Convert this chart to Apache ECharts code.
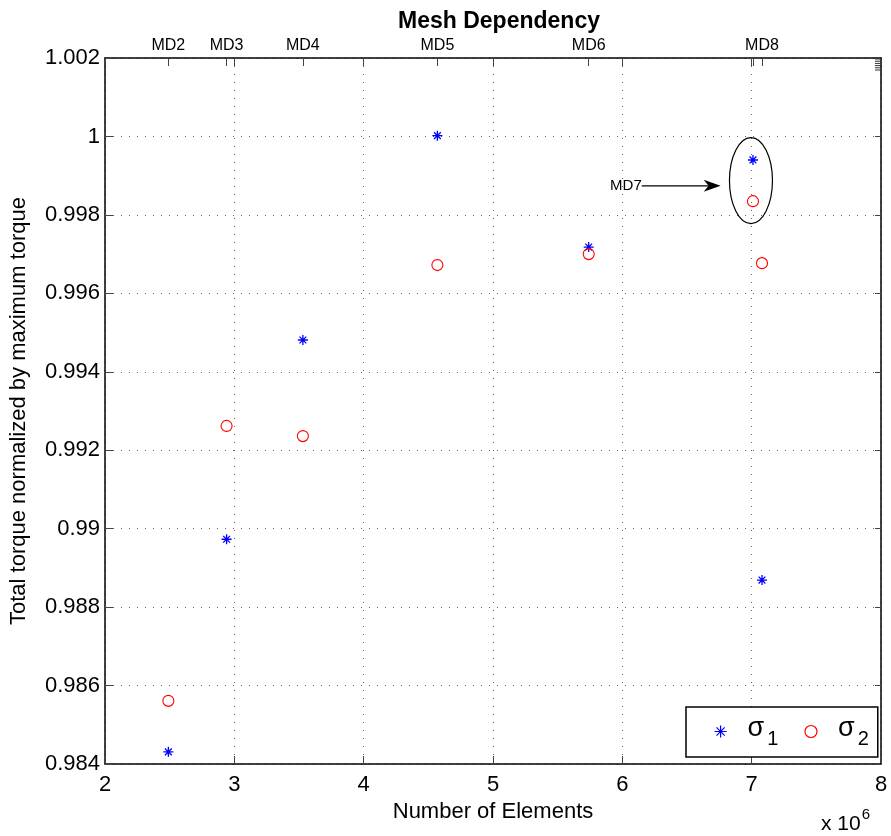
<!DOCTYPE html>
<html>
<head>
<meta charset="utf-8">
<title>Mesh Dependency</title>
<script src="https://cdn.jsdelivr.net/npm/echarts@6/dist/echarts.min.js"></script>
<style>
  html, body { margin: 0; padding: 0; background: #fff; }
  #chart { width: 891px; height: 836px; }
</style>
</head>
<body>
<div id="chart"></div>
<script>
// Mesh study: number of elements for each mesh
const meshNames = ['MD2', 'MD3', 'MD4', 'MD5', 'MD6', 'MD7', 'MD8'];
const elements = [2.49e6, 2.94e6, 3.53e6, 4.57e6, 5.74e6, 7.01e6, 7.08e6];

// Total torque normalized by the maximum torque
const sigma1 = [0.98431, 0.98973, 0.99481, 1.00002, 0.99718, 0.99940, 0.98869];
const sigma2 = [0.98561, 0.99262, 0.99236, 0.99672, 0.99700, 0.99835, 0.99677];

// Meshes named along the top axis (MD7 is called out separately)
const topMeshes = ['MD2', 'MD3', 'MD4', 'MD5', 'MD6', 'MD8'];
const xGridTicks = [3e6, 4e6, 5e6, 6e6, 7e6];

// Callout for MD7: text anchor and arrow tip in data units
const calloutLabel = 'MD7';
const calloutFrom = [6.15e6, 0.99874];
const calloutTo = [6.76e6, 0.99874];

const FONT = '"Liberation Sans", Arial, Helvetica, sans-serif';
const starPath = 'path://M5,0L5,10M0,5L10,5M1.6,1.6L8.4,8.4M1.6,8.4L8.4,1.6';

const topValues = topMeshes.map(n => elements[meshNames.indexOf(n)]);

function nearestTopName(v) {
  let best = 0, d = Infinity;
  topValues.forEach((t, i) => { const dd = Math.abs(t - v); if (dd < d) { d = dd; best = i; } });
  return topMeshes[best];
}

function yLabel(v) {
  return String(parseFloat(v.toFixed(3)));
}

const chart = echarts.init(document.getElementById('chart'), null, { renderer: 'canvas' });

const tickStyle = { color: '#444', width: 1 };
const axisLineStyle = { color: '#000', width: 1.5 };

const option = {
  backgroundColor: '#fff',
  animation: false,
  textStyle: { fontFamily: FONT },
  title: {
    text: 'Mesh Dependency',
    left: 494,
    textAlign: 'center',
    top: 5,
    textStyle: { fontFamily: FONT, fontSize: 23, fontWeight: 'bold', color: '#000' }
  },
  grid: { left: 104, right: 10, top: 58, bottom: 72, containLabel: false },
  legend: {
    left: 686,
    top: 707,
    orient: 'horizontal',
    padding: [8, 9, 8, 28],
    itemGap: 26,
    itemWidth: 12,
    itemHeight: 12,
    borderColor: '#000',
    borderWidth: 1.5,
    backgroundColor: '#fff',
    itemStyle: { borderWidth: 1.2 },
    formatter: name => '{s|σ}{sub|' + name.slice(1) + '}',
    textStyle: {
      fontFamily: FONT,
      color: '#000',
      rich: {
        s: { fontSize: 27, fontFamily: FONT, padding: [0, 0, 6, 16] },
        sub: { fontSize: 20, fontFamily: FONT, padding: [15, 0, 0, 3] }
      }
    },
    data: ['σ1', 'σ2']
  },
  xAxis: [
    {
      type: 'value',
      position: 'bottom',
      min: 2e6,
      max: 8e6,
      interval: 1e6,
      name: 'Number of Elements',
      nameLocation: 'middle',
      nameGap: 30,
      nameTextStyle: { fontFamily: FONT, fontSize: 22, color: '#000' },
      axisLine: { show: true, lineStyle: axisLineStyle },
      axisTick: { show: true, inside: true, length: 8, lineStyle: tickStyle },
      axisLabel: {
        formatter: v => String(Math.round(v / 1e6)),
        fontFamily: FONT, fontSize: 22, color: '#000', margin: 10
      },
      splitLine: { show: true, lineStyle: { color: '#666', width: 1, type: [1, 7] } }
    },
    {
      type: 'value',
      position: 'top',
      min: 2e6,
      max: 8e6,
      axisLine: { show: true, lineStyle: axisLineStyle },
      axisTick: {
        show: true, inside: true, length: 8, lineStyle: tickStyle,
        customValues: xGridTicks.concat(elements)
      },
      axisLabel: {
        customValues: topValues,
        formatter: v => nearestTopName(v),
        fontFamily: FONT, fontSize: 16, color: '#000', margin: 4
      },
      splitLine: { show: false }
    }
  ],
  yAxis: [
    {
      type: 'value',
      position: 'left',
      min: 0.984,
      max: 1.002,
      interval: 0.002,
      name: 'Total torque normalized by maximum torque',
      nameLocation: 'middle',
      nameGap: 75,
      nameTextStyle: { fontFamily: FONT, fontSize: 22, color: '#000' },
      axisLine: { show: true, lineStyle: axisLineStyle },
      axisTick: { show: true, inside: true, length: 8, lineStyle: tickStyle },
      axisLabel: { formatter: yLabel, fontFamily: FONT, fontSize: 22, color: '#000', margin: 5 },
      splitLine: { show: true, lineStyle: { color: '#666', width: 1, type: [1, 7] } }
    },
    {
      type: 'value',
      position: 'right',
      min: 0.984,
      max: 1.002,
      interval: 0.002,
      axisLine: { show: true, lineStyle: axisLineStyle },
      axisTick: { show: true, inside: true, length: 6, lineStyle: tickStyle },
      axisLabel: { show: false },
      splitLine: { show: false }
    }
  ],
  series: [
    {
      name: 'σ1',
      type: 'scatter',
      xAxisIndex: 0,
      yAxisIndex: 0,
      symbol: starPath,
      symbolSize: 10,
      itemStyle: { color: 'transparent', borderColor: '#0000ff', borderWidth: 1.3, opacity: 1 },
      emphasis: { disabled: true },
      data: elements.map((x, i) => [x, sigma1[i]]),
      z: 5
    },
    {
      name: 'σ2',
      type: 'scatter',
      xAxisIndex: 0,
      yAxisIndex: 0,
      symbol: 'circle',
      symbolSize: 11,
      itemStyle: { color: 'transparent', borderColor: '#ff0000', borderWidth: 1.1, opacity: 1 },
      emphasis: { disabled: true },
      data: elements.map((x, i) => [x, sigma2[i]]),
      z: 5
    }
  ]
};

chart.setOption(option);

// Annotations placed from data coordinates once the axes exist
const md7 = meshNames.indexOf('MD7');
const pStar = chart.convertToPixel({ xAxisIndex: 0, yAxisIndex: 0 }, [elements[md7], sigma1[md7]]);
const pCirc = chart.convertToPixel({ xAxisIndex: 0, yAxisIndex: 0 }, [elements[md7], sigma2[md7]]);
const pFrom = chart.convertToPixel({ xAxisIndex: 0, yAxisIndex: 0 }, calloutFrom);
const pTo = chart.convertToPixel({ xAxisIndex: 0, yAxisIndex: 0 }, calloutTo);
const corner = chart.convertToPixel({ xAxisIndex: 0, yAxisIndex: 0 }, [8e6, 1.002]);
const bottomRight = chart.convertToPixel({ xAxisIndex: 0, yAxisIndex: 0 }, [8e6, 0.984]);

const cx = (pStar[0] + pCirc[0]) / 2 - 2;
const cy = (pStar[1] + pCirc[1]) / 2;

const graphics = [
  {
    type: 'ellipse',
    shape: { cx: cx, cy: cy, rx: 21.5, ry: 43 },
    style: { fill: 'none', stroke: '#000', lineWidth: 1.2 },
    z: 10
  },
  {
    type: 'line',
    shape: { x1: pFrom[0], y1: pFrom[1], x2: pTo[0] - 8, y2: pTo[1] },
    style: { stroke: '#000', lineWidth: 1.2 },
    z: 10
  },
  {
    type: 'polygon',
    shape: { points: [[pTo[0], pTo[1]], [pTo[0] - 17, pTo[1] - 6], [pTo[0] - 12, pTo[1]], [pTo[0] - 17, pTo[1] + 6]] },
    style: { fill: '#000' },
    z: 10
  },
  {
    type: 'text',
    x: pFrom[0],
    y: pFrom[1],
    style: {
      text: calloutLabel, fill: '#000', font: '15px ' + FONT,
      textAlign: 'right', textVerticalAlign: 'middle'
    },
    z: 10
  },
  {
    type: 'text',
    x: bottomRight[0] - 11,
    y: bottomRight[1] + 40,
    style: {
      text: '{a|x 10}{b|6}',
      textAlign: 'right',
      fill: '#000',
      rich: {
        a: { fontSize: 21, fontFamily: FONT, fill: '#000', padding: [10, 0, 0, 0] },
        b: { fontSize: 15, fontFamily: FONT, fill: '#000', padding: [0, 0, 10, 1] }
      }
    },
    z: 10
  }
];

// Cluster of tick marks at the upper right corner of the box
for (let k = 0; k < 6; k++) {
  graphics.push({
    type: 'line',
    shape: { x1: corner[0] - 6, y1: corner[1] + 1 + k * 2.2, x2: corner[0], y2: corner[1] + 1 + k * 2.2 },
    style: { stroke: '#333', lineWidth: 1 },
    z: 10
  });
}

chart.setOption({ graphic: graphics });
</script>
</body>
</html>
